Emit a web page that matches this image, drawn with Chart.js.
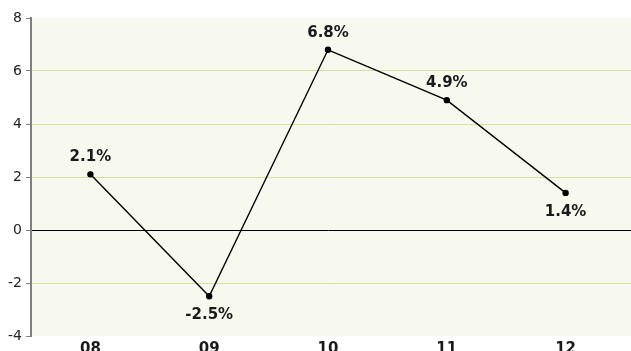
<!DOCTYPE html>
<html>
<head>
<meta charset="utf-8">
<script src="https://cdn.jsdelivr.net/npm/chart.js@4"></script>
<style>
  html, body { margin: 0; padding: 0; background: #fff; }
  #wrap { width: 631px; height: 351px; }
</style>
</head>
<body>
<div id="wrap"><canvas id="myChart"></canvas></div>
<script>
// dados do gráfico
const years = ['08', '09', '10', '11', '12'];
const growth = [2.1, -2.5, 6.8, 4.9, 1.4];
const yTicks = [-4, -2, 0, 2, 4, 6, 8];
// onde fica o rótulo de cada ponto
const labelSide = ['top', 'bottom', 'top', 'top', 'bottom'];

const fontFamily = '"DejaVu Sans", Verdana, sans-serif';
const gridGreen = '#d3e29c';

function gridColor(v) {
    if (v === 0) return '#000';
    if (v === 8 || v === -4) return null;
    return gridGreen;
}

// fundo da área do gráfico
const plotBackground = {
    id: 'plotBackground',
    beforeDraw(chart) {
        const { ctx, chartArea } = chart;
        ctx.save();
        ctx.fillStyle = '#f7f9ef';
        ctx.fillRect(chartArea.left, chartArea.top, chart.width - chartArea.left, chartArea.bottom - chartArea.top);
        ctx.restore();
    },
    // prolonga as linhas de grade até a borda direita
    beforeDatasetsDraw(chart) {
        const { ctx, chartArea } = chart;
        const y = chart.scales.y;
        ctx.save();
        ctx.lineWidth = 1;
        yTicks.forEach(v => {
            const col = gridColor(v);
            if (!col) return;
            const py = Math.round(y.getPixelForValue(v) - 0.5) + 0.5;
            ctx.strokeStyle = col;
            ctx.beginPath();
            ctx.moveTo(chartArea.right, py);
            ctx.lineTo(chart.width, py);
            ctx.stroke();
        });
        ctx.restore();
    }
};

// rótulos de valor sobre os pontos
const valueLabels = {
    id: 'valueLabels',
    afterDatasetsDraw(chart) {
        const { ctx } = chart;
        const meta = chart.getDatasetMeta(0);
        ctx.save();
        ctx.font = 'bold 15px ' + fontFamily;
        ctx.fillStyle = '#1a1a1a';
        ctx.textAlign = 'center';
        ctx.textBaseline = 'middle';
        meta.data.forEach((pt, i) => {
            const dy = labelSide[i] === 'top' ? -17 : 19;
            ctx.fillText(growth[i].toFixed(1) + '%', pt.x, pt.y + dy);
        });
        ctx.restore();
    }
};

const ctx = document.getElementById('myChart').getContext('2d');
const myChart = new Chart(ctx, {
    type: 'line',
    data: {
        labels: years,
        datasets: [{
            data: growth,
            borderColor: '#000',
            borderWidth: 1.4,
            pointRadius: 2.5,
            pointBackgroundColor: '#000',
            pointBorderColor: '#000',
            tension: 0
        }]
    },
    options: {
        responsive: true,
        maintainAspectRatio: false,
        animation: false,
        layout: { padding: { top: 18, right: 6, bottom: 0, left: 0 } },
        plugins: {
            legend: { display: false },
            tooltip: { enabled: false }
        },
        scales: {
            x: {
                offset: true,
                afterFit(scale) { scale.height = 15; },
                grid: { display: false, drawTicks: false },
                border: { display: false },
                ticks: {
                    padding: 4,
                    color: '#1a1a1a',
                    font: { family: fontFamily, size: 15, weight: 'bold' }
                }
            },
            y: {
                min: -4,
                max: 8,
                afterFit(scale) { scale.width = 31; },
                afterBuildTicks(scale) { scale.ticks = yTicks.map(v => ({ value: v })); },
                border: { display: true, color: '#808080', width: 2 },
                grid: {
                    tickLength: 5,
                    tickColor: '#808080',
                    lineWidth: 1,
                    color: c => gridColor(c.tick ? c.tick.value : null) || 'rgba(0,0,0,0)'
                },
                ticks: {
                    padding: 4,
                    color: '#222',
                    font: { family: fontFamily, size: 14 }
                }
            }
        }
    },
    plugins: [plotBackground, valueLabels]
});
</script>
</body>
</html>
